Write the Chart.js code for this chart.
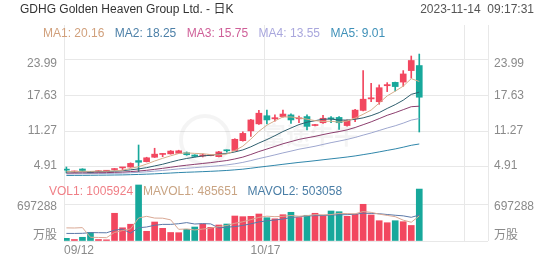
<!DOCTYPE html>
<html>
<head>
<meta charset="utf-8">
<script src="https://cdn.jsdelivr.net/npm/chart.js@4.4.0/dist/chart.umd.min.js"></script>
<style>
  html, body { margin: 0; padding: 0; background: #fff; }
</style>
</head>
<body>
<canvas id="kline" width="552" height="265"></canvas>
<script>
const title = 'GDHG Golden Heaven Group Ltd. - 日K';
const stamp = '2023-11-14  09:17:31';

// daily candles, 09/12 .. 11/14
const opens  = [4.42,4.02,4.55,4.02,4.05,4.15,4.45,4.75,4.90,6.05, 5.86,6.65,7.15,7.25,7.35,7.45,7.05,6.88,6.93,6.75,
                7.90,7.85,9.60,11.35,12.60,14.05,13.50,13.90,14.20,13.50, 13.90,12.30,12.80,13.65,13.75,12.30,13.60,15.00,17.05,16.55,
                19.40,20.00,20.05,22.10,23.00];
const highs  = [4.90,4.20,4.60,4.10,4.30,4.25,4.65,4.82,5.65,8.83, 6.65,8.25,7.30,7.85,7.90,7.60,7.10,7.25,7.00,7.70,
                7.95,9.95,11.20,13.40,15.00,15.05,14.20,15.05,14.40,14.00, 14.20,12.50,14.10,13.90,13.90,13.30,15.20,22.10,19.85,19.55,
                19.95,20.05,22.10,24.70,25.05];
const lows   = [3.85,3.95,4.20,3.80,4.00,4.10,4.30,4.45,4.85,4.08, 5.80,6.60,6.75,7.20,7.30,7.00,6.70,6.70,6.90,6.70,
                7.55,7.80,9.50,10.35,12.50,12.60,13.10,13.80,12.70,12.80, 11.50,12.25,12.70,12.80,11.60,12.20,13.00,14.90,16.55,16.10,
                18.35,18.45,19.30,20.75,11.15];
const closes = [4.35,4.12,4.28,3.88,4.25,4.20,4.52,4.80,5.55,5.75, 6.55,7.20,7.25,7.75,7.80,7.10,6.80,6.95,6.95,7.60,
                7.80,9.85,10.90,13.30,14.50,13.30,13.70,14.35,13.30,13.65, 12.15,12.45,13.60,13.50,12.80,13.20,15.05,17.00,17.25,19.05,
                19.60,19.25,21.50,23.90,17.35];

const ma1 = [4.07,4.09,4.15,4.13,4.18,4.15,4.23,4.33,4.66,4.96, 5.43,5.97,6.46,6.90,7.31,7.42,7.34,7.28,7.12,7.08,
             7.22,7.83,8.62,9.89,11.27,12.37,13.14,13.83,13.83,13.66, 13.43,13.18,13.03,13.07,12.90,13.11,13.63,14.31,15.06,16.31,
             17.59,18.43,19.33,20.66,20.16];
const ma2 = [4.04,4.05,4.08,4.06,4.09,4.11,4.16,4.24,4.40,4.57, 4.79,5.10,5.40,5.78,6.14,6.43,6.66,6.87,7.01,7.20,
             7.32,7.59,7.95,8.51,9.18,9.80,10.49,11.23,11.86,12.47, 12.90,13.16,13.43,13.45,13.28,13.27,13.41,13.67,14.07,14.61,
             15.35,16.03,16.82,17.86,18.25];
const ma3 = [3.83,3.84,3.87,3.87,3.89,3.91,3.95,4.00,4.09,4.19, 4.32,4.49,4.67,4.86,5.06,5.23,5.38,5.54,5.69,5.88,
             6.06,6.34,6.67,7.14,7.66,8.11,8.57,9.05,9.44,9.83, 10.11,10.37,10.69,10.98,11.23,11.53,11.95,12.45,12.96,13.54,
             14.13,14.60,15.13,15.66,15.75];
const ma4 = [3.67,3.69,3.71,3.72,3.74,3.76,3.79,3.82,3.89,3.96, 4.05,4.17,4.29,4.43,4.57,4.68,4.79,4.90,5.01,5.14,
             5.28,5.48,5.73,6.05,6.41,6.73,7.07,7.42,7.74,8.08, 8.34,8.61,8.93,9.25,9.53,9.83,10.18,10.59,10.98,11.42,
             11.86,12.26,12.73,13.27,13.55];
const ma5 = [3.40,3.41,3.42,3.43,3.45,3.46,3.48,3.50,3.54,3.58, 3.63,3.69,3.76,3.83,3.91,3.97,4.02,4.08,4.14,4.21,
             4.29,4.40,4.52,4.69,4.87,5.04,5.21,5.39,5.56,5.73, 5.87,6.03,6.20,6.36,6.52,6.69,6.88,7.11,7.34,7.60,
             7.87,8.13,8.44,8.78,9.01];

const volumes = [52000,29000,72000,165000,29000,23000,537000,256000,325000,1085000,
                 188000,368000,246000,165000,161000,227000,271000,329000,265000,310000,
                 329000,484000,471000,478000,523000,451000,430000,509000,556000,455000,
                 498000,537000,490000,581000,567000,478000,517000,711000,504000,393000,
                 354000,393000,374000,301000,1005924];
const mavol1 = [254000,252000,259000,72000,69000,64000,165000,202000,234000,445000,
                478000,444000,442000,410000,226000,233000,214000,231000,251000,280000,
                301000,343000,372000,414000,457000,481000,471000,478000,494000,480000,
                490000,511000,507000,512000,535000,531000,527000,571000,555000,521000,
                496000,471000,404000,363000,485651];
const mavol2 = [147000,146000,149000,162000,161000,159000,209000,230000,153000,257000,
                271000,305000,322000,322000,335000,356000,329000,337000,331000,253000,
                267000,279000,301000,333000,369000,391000,407000,425000,454000,469000,
                486000,491000,493000,503000,507000,510000,519000,539000,534000,528000,
                513000,499000,487000,459000,503058];

const maNames = ['MA1', 'MA2', 'MA3', 'MA4', 'MA5'];
const priceTicks = [4.91, 11.27, 17.63, 23.99];
const volTicks = [0, 697288];
const volTickText = ['万股', '697288'];
const dateIdx = [0, 25, 50];
const dateText = ['09/12', '10/17', ''];

const RED = '#f2475f', TEAL = '#17a89b';
const maText = ['#d1a07c', '#4d80a8', '#cf5f98', '#a9a7dd', '#3e90b8'];
const maLine = ['#d6ae8c', '#2f5f6e', '#8c3e6e', '#9ea7cf', '#2f86aa'];
const FONT = 'Arial, "Liberation Sans", "Noto Sans CJK SC", sans-serif';
const XMIN = -0.3, XMAX = 52.57;

const candleColor = closes.map((c, i) => c >= opens[i] ? RED : TEAL);
const pts = arr => arr.map((v, i) => ({x: i, y: v}));

const line = (data, color, axis) => ({
  type: 'line', data: pts(data), borderColor: color, borderWidth: 1,
  pointRadius: 0, tension: 0, yAxisID: axis, order: 0
});

const gridOpts = {color: '#e8e8e8', drawTicks: false};

const textPlugin = {
  id: 'kText',
  beforeDatasetsDraw(chart) {
    // faint watermark
    const ctx = chart.ctx;
    ctx.save();
    ctx.strokeStyle = 'rgba(0,0,0,0.045)';
    ctx.lineWidth = 4;
    ctx.beginPath();
    ctx.arc(205, 140, 24, 0, Math.PI * 2);
    ctx.stroke();
    ctx.fillStyle = 'rgba(0,0,0,0.045)';
    ctx.font = 'bold 24px "Noto Sans CJK SC", sans-serif';
    ctx.textBaseline = 'middle';
    ctx.fillText('富途牛牛', 262, 135);
    ctx.restore();
  },
  afterDraw(chart) {
    const {ctx, scales} = chart;
    const x = scales.x, y = scales.y, yv = scales.yv;
    ctx.save();
    ctx.textBaseline = 'middle';

    ctx.font = '12px ' + FONT;
    ctx.fillStyle = '#333';
    ctx.textAlign = 'left';
    ctx.fillText(title, 20, 10);
    ctx.fillStyle = '#555';
    ctx.textAlign = 'right';
    ctx.fillText(stamp, 534, 10);

    ctx.textAlign = 'left';
    let lx = 43;
    [ma1, ma2, ma3, ma4, ma5].forEach((arr, k) => {
      const s = maNames[k] + ': ' + arr[arr.length - 1].toFixed(2);
      ctx.fillStyle = maText[k];
      ctx.fillText(s, lx, 34);
      lx += ctx.measureText(s).width + 10.5;
    });

    const volLegend = [
      ['VOL1: ' + volumes[volumes.length - 1], '#f07f86'],
      ['MAVOL1: ' + mavol1[mavol1.length - 1], '#c9a483'],
      ['MAVOL2: ' + mavol2[mavol2.length - 1], '#4a7ea6']
    ];
    lx = 49;
    volLegend.forEach(([s, c]) => {
      ctx.fillStyle = c;
      ctx.fillText(s, lx, 192);
      lx += ctx.measureText(s).width + 10;
    });

    ctx.fillStyle = '#8a8a8a';
    const priceNudge = [-1, -1, 0, 4];
    priceTicks.forEach((v, k) => {
      const py = y.getPixelForValue(v) + priceNudge[k];
      ctx.textAlign = 'right';
      ctx.fillText(v.toFixed(2), 57, py);
      ctx.textAlign = 'left';
      ctx.fillText(v.toFixed(2), 494, py);
    });
    const volNudge = [-5, 2];
    volTicks.forEach((v, k) => {
      const py = yv.getPixelForValue(v) + volNudge[k];
      ctx.textAlign = 'right';
      ctx.fillText(volTickText[k], 57, py);
      ctx.textAlign = 'left';
      ctx.fillText(volTickText[k], 494, py);
    });

    dateIdx.forEach((d, k) => {
      if (!dateText[k]) return;
      const px = x.getPixelForValue(d + XMIN);
      ctx.textAlign = k === 0 ? 'left' : 'center';
      ctx.fillText(dateText[k], k === 0 ? px : px + 1, 251);
    });
    ctx.restore();
  }
};

new Chart(document.getElementById('kline'), {
  data: {
    datasets: [
      line(ma1, maLine[0], 'y'),
      line(ma2, maLine[1], 'y'),
      line(ma3, maLine[2], 'y'),
      line(ma4, maLine[3], 'y'),
      line(ma5, maLine[4], 'y'),
      {
        type: 'bar', label: 'wick', yAxisID: 'y', order: 2, grouped: false,
        data: lows.map((l, i) => ({x: i, y: [l, highs[i]]})),
        backgroundColor: candleColor, barThickness: 1, borderWidth: 0
      },
      {
        type: 'bar', label: 'body', yAxisID: 'y', order: 1, grouped: false,
        data: opens.map((o, i) => ({x: i, y: [o, closes[i]]})),
        backgroundColor: candleColor, barThickness: 6, minBarLength: 1, borderWidth: 0
      },
      {
        type: 'bar', label: 'VOL', yAxisID: 'yv', order: 1, grouped: false,
        data: pts(volumes),
        backgroundColor: candleColor, barThickness: 6, borderWidth: 0
      },
      line(mavol1, '#d9a894', 'yv'),
      line(mavol2, '#5a78a8', 'yv')
    ]
  },
  options: {
    responsive: false,
    animation: false,
    devicePixelRatio: 1,
    events: [],
    layout: {padding: {left: 64, right: 64, top: 25, bottom: 24}},
    plugins: {legend: {display: false}, tooltip: {enabled: false}},
    scales: {
      x: {
        type: 'linear', min: XMIN, max: XMAX, offset: false,
        grid: Object.assign({offset: false}, gridOpts),
        border: {display: false},
        ticks: {display: false},
        afterBuildTicks: s => { s.ticks = dateIdx.map(d => ({value: d + XMIN})).concat([{value: XMAX}]); }
      },
      yv: {
        type: 'linear', position: 'left', stack: 'k', stackWeight: 61,
        min: 0, max: 1181500,
        grid: gridOpts, border: {display: false}, ticks: {display: false},
        afterBuildTicks: s => { s.ticks = volTicks.map(v => ({value: v})); }
      },
      y: {
        type: 'linear', position: 'left', stack: 'k', stackWeight: 155,
        min: 2.59, max: 30.23,
        grid: gridOpts, border: {display: false}, ticks: {display: false},
        afterBuildTicks: s => { s.ticks = priceTicks.map(v => ({value: v})); }
      }
    }
  },
  plugins: [textPlugin]
});
</script>
</body>
</html>
